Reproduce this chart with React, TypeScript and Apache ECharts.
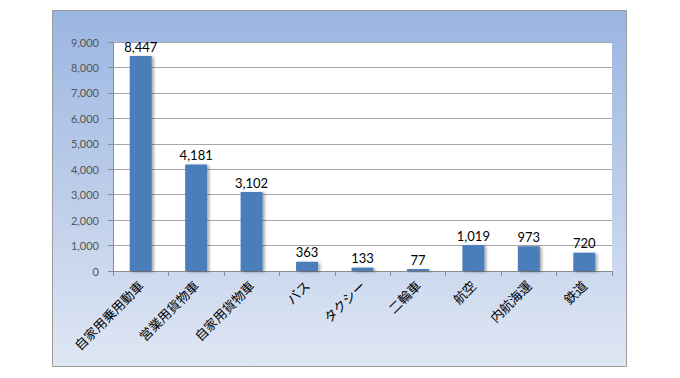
import React, { useEffect, useRef } from "react";
import * as echarts from "echarts";

const categories = ["自家用乗用動車", "営業用貨物車", "自家用貨物車", "バス", "タクシー", "二輪車", "航空", "内航海運", "鉄道"];
const values = [8447, 4181, 3102, 363, 133, 77, 1019, 973, 720];
const yMin = 0;
const yMax = 9000;
const yInterval = 1000;

export default function App() {
  const ref = useRef<HTMLDivElement>(null);
  useEffect(() => {
    if (!ref.current) return;
    const chart = echarts.init(ref.current, undefined, { renderer: "svg" });
    chart.setOption({
      animation: false,
      graphic: [
        {
          type: "rect",
          z: -10,
          silent: true,
          shape: { x: 52.5, y: 10.5, width: 574, height: 356 },
          style: {
            fill: new echarts.graphic.LinearGradient(0, 0, 0, 1, [
              { offset: 0, color: "#9bb6e2" },
              { offset: 0.5, color: "#bccde9" },
              { offset: 1, color: "#dfe7f4" },
            ]),
            stroke: "#9a9a9a",
            lineWidth: 1,
          },
        },
      ],
      grid: {
        left: 113,
        right: 68,
        top: 42,
        bottom: 107,
        show: true,
        backgroundColor: "#ffffff",
        borderWidth: 0,
      },
      xAxis: {
        type: "category",
        data: categories,
        axisLine: { show: true, lineStyle: { color: "#8c8c8c", width: 1 } },
        axisTick: { show: true, alignWithLabel: false, length: 5, lineStyle: { color: "#8c8c8c" } },
        axisLabel: {
          rotate: 45,
          interval: 0,
          margin: 12,
          color: "#000000",
          fontSize: 13,
          fontFamily: "Noto Sans CJK JP",
        },
      },
      yAxis: {
        type: "value",
        min: yMin,
        max: yMax,
        interval: yInterval,
        axisLine: { show: true, lineStyle: { color: "#8c8c8c", width: 1 } },
        axisTick: { show: true, length: 5, lineStyle: { color: "#8c8c8c" } },
        axisLabel: {
          margin: 14,
          color: "#555555",
          fontSize: 11,
          fontFamily: "Lato",
          formatter: (v: number) => v.toLocaleString("en-US"),
        },
        splitLine: { show: true, lineStyle: { color: "#a6a6a6", width: 1 } },
      },
      series: [
        {
          type: "bar",
          data: values,
          barWidth: 22,
          itemStyle: {
            color: "#4a7ebb",
            shadowColor: "rgba(0,0,0,0.35)",
            shadowBlur: 3,
            shadowOffsetX: 2,
            shadowOffsetY: 1,
          },
          label: {
            show: true,
            position: "top",
            distance: 3,
            color: "#000000",
            fontSize: 13,
            fontFamily: "Lato",
            formatter: (p: any) => Number(p.value).toLocaleString("en-US"),
          },
        },
      ],
    });
    return () => chart.dispose();
  }, []);
  return (
    <div
      ref={ref}
      style={{ position: "fixed", left: 0, top: 0, width: 680, height: 378, background: "#ffffff" }}
    />
  );
}
